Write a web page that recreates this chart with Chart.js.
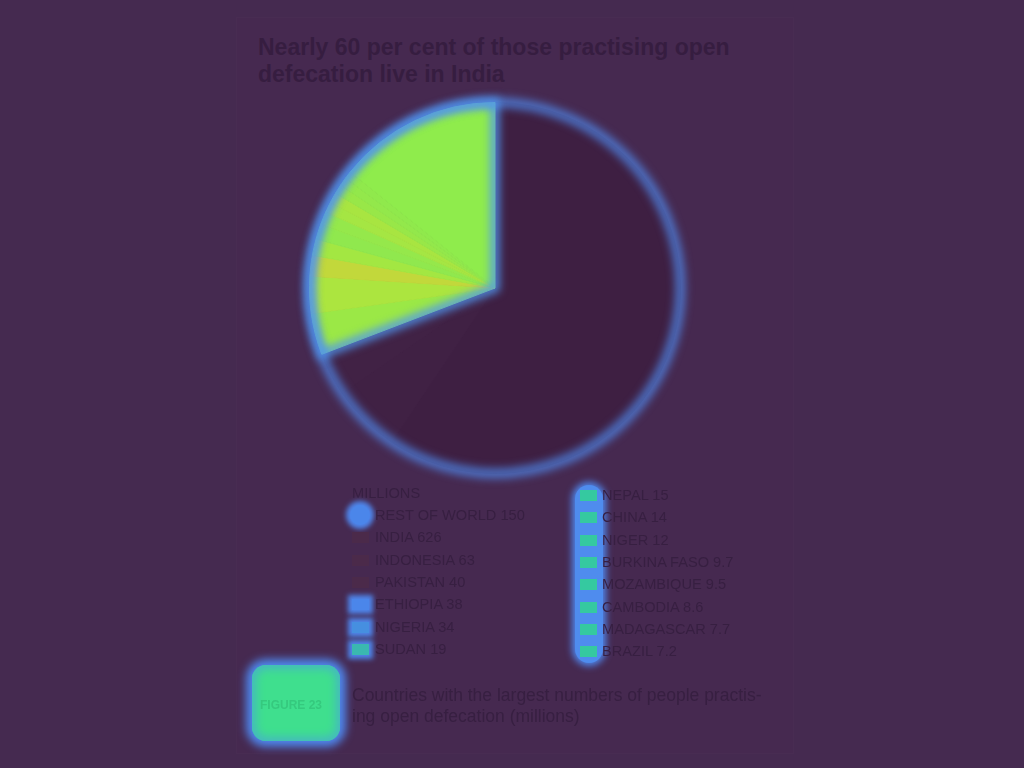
<!DOCTYPE html>
<html>
<head>
<meta charset="utf-8">
<script src="https://cdn.jsdelivr.net/npm/chart.js@4"></script>
<style>
  html, body { margin:0; padding:0; width:1024px; height:768px; background:#452a50; overflow:hidden; font-family:"Liberation Sans", Arial, sans-serif; }
  #panel { position:absolute; left:236px; top:17px; width:556px; height:735px; border:1px solid #482c52; background:#462950; }
  #title { position:absolute; left:258px; top:34px; width:560px; font-weight:bold; font-size:23px; line-height:27px; color:#361d40; }
  #chartBox { position:absolute; left:285px; top:78px; width:420px; height:420px; }
  .lg { position:absolute; font-size:14.6px; color:#371f41; white-space:nowrap; }
  .sw { position:absolute; width:17px; height:11px; }
  #fig { position:absolute; left:252px; top:665px; width:88px; height:76px; border-radius:14px; background:#3fdf8e; box-shadow:0 0 8px 6px #4f86ec, inset 0 0 8px 4px #45b8c0; }
  #figt { position:absolute; left:260px; top:698px; font-size:12px; font-weight:bold; color:#35c97e; }
  #cap { position:absolute; left:352px; top:685px; font-size:17.5px; line-height:21px; color:#371f41; width:460px; }
  #rband { position:absolute; left:575px; top:485px; width:28px; height:178px; border-radius:14px; background:#4f8cee; box-shadow:0 0 7px 3px #4f86ec; }
</style>
</head>
<body>
<div id="panel"></div>
<div id="title">Nearly 60 per cent of those practising open defecation live in India</div>
<div id="chartBox"><canvas id="c"></canvas></div>
<div id="rband"></div>
<div id="legend"></div>
<div id="fig"></div>
<div id="figt">FIGURE 23</div>
<div id="cap">Countries with the largest numbers of people practis-<br>ing open defecation (millions)</div>
<script>
const categories = ['India','Indonesia','Pakistan','Ethiopia','Nigeria','Sudan','Nepal','China','Niger','Burkina Faso','Mozambique','Cambodia','Madagascar','Brazil','Rest of world'];
const values = [626, 63, 40, 38, 34, 19, 15, 14, 12, 9.7, 9.5, 8.6, 7.7, 7.2, 150];
const sliceColors = ['#3e1f42','#402144','#412245','#9be846','#ace53f','#c2d83b','#a3e742','#90e84e','#95e84b','#a5e643','#a8e541','#98e748','#93e84b','#90e94c','#8fec4c'];
const legendLeft = ['Rest of world','India','Indonesia','Pakistan','Ethiopia','Nigeria','Sudan'];
const legendRight = ['Nepal','China','Niger','Burkina Faso','Mozambique','Cambodia','Madagascar','Brazil'];
const legendHeader = 'MILLIONS';

const lg = document.getElementById('legend');
function addText(txt, x, y) {
  const d = document.createElement('div'); d.className = 'lg'; d.style.left = x + 'px'; d.style.top = y + 'px'; d.textContent = txt; lg.appendChild(d);
}
function addSwatch(x, y, glow, bg, round) {
  const s = document.createElement('div'); s.className = 'sw'; s.style.left = x + 'px'; s.style.top = y + 'px';
  s.style.background = bg;
  if (round) { s.style.borderRadius = '50%'; s.style.width = '20px'; s.style.height = '20px'; s.style.left = (x - 2) + 'px'; s.style.top = (y - 5) + 'px'; }
  if (glow) s.style.boxShadow = '0 0 5px 4px #4f86ec';
  lg.appendChild(s);
}
addText(legendHeader, 352, 485);
legendLeft.forEach((name, i) => {
  const y = 507 + i * 22.3;
  const v = values[categories.indexOf(name)];
  const glow = !['India','Indonesia','Pakistan'].includes(name);
  const bg = !glow ? '#4b2a4a' : (name === 'Sudan' ? '#3ab8b0' : (name === 'Nigeria' ? '#468fe0' : '#4b86ea'));
  addSwatch(352, y + 3, glow, bg, name === 'Rest of world');
  addText(name.toUpperCase() + ' ' + v, 375, y);
});
legendRight.forEach((name, i) => {
  const y = 487 + i * 22.3;
  const v = values[categories.indexOf(name)];
  addSwatch(580, y + 3, false, '#35c9a0', false);
  addText(name.toUpperCase() + ' ' + v, 602, y);
});

const glowPlugin = {
  id: 'glow',
  afterDatasetsDraw(chart) {
    const meta = chart.getDatasetMeta(0);
    const a0 = meta.data[0];
    const ctx = chart.ctx;
    const cx = a0.x, cy = a0.y, r = a0.outerRadius;
    ctx.save();
    ctx.filter = 'blur(4px)';
    ctx.strokeStyle = 'rgba(80,140,240,0.75)';
    ctx.lineWidth = 10;
    ctx.beginPath(); ctx.arc(cx, cy, r, 0, Math.PI * 2); ctx.stroke();
    const s = meta.data[3].startAngle, e = meta.data[meta.data.length - 1].endAngle;
    ctx.strokeStyle = 'rgba(80,150,240,0.9)';
    ctx.lineWidth = 9;
    ctx.beginPath(); ctx.moveTo(cx, cy); ctx.arc(cx, cy, r, s, e); ctx.closePath(); ctx.stroke();
    ctx.restore();
  }
};

new Chart(document.getElementById('c'), {
  type: 'pie',
  data: { labels: categories, datasets: [{ data: values, backgroundColor: sliceColors, borderColor: sliceColors, borderWidth: 1 }] },
  options: {
    responsive: true, maintainAspectRatio: false, animation: false,
    layout: { padding: 24 },
    plugins: { legend: { display: false }, tooltip: { enabled: false } }
  },
  plugins: [glowPlugin]
});
</script>
</body>
</html>
